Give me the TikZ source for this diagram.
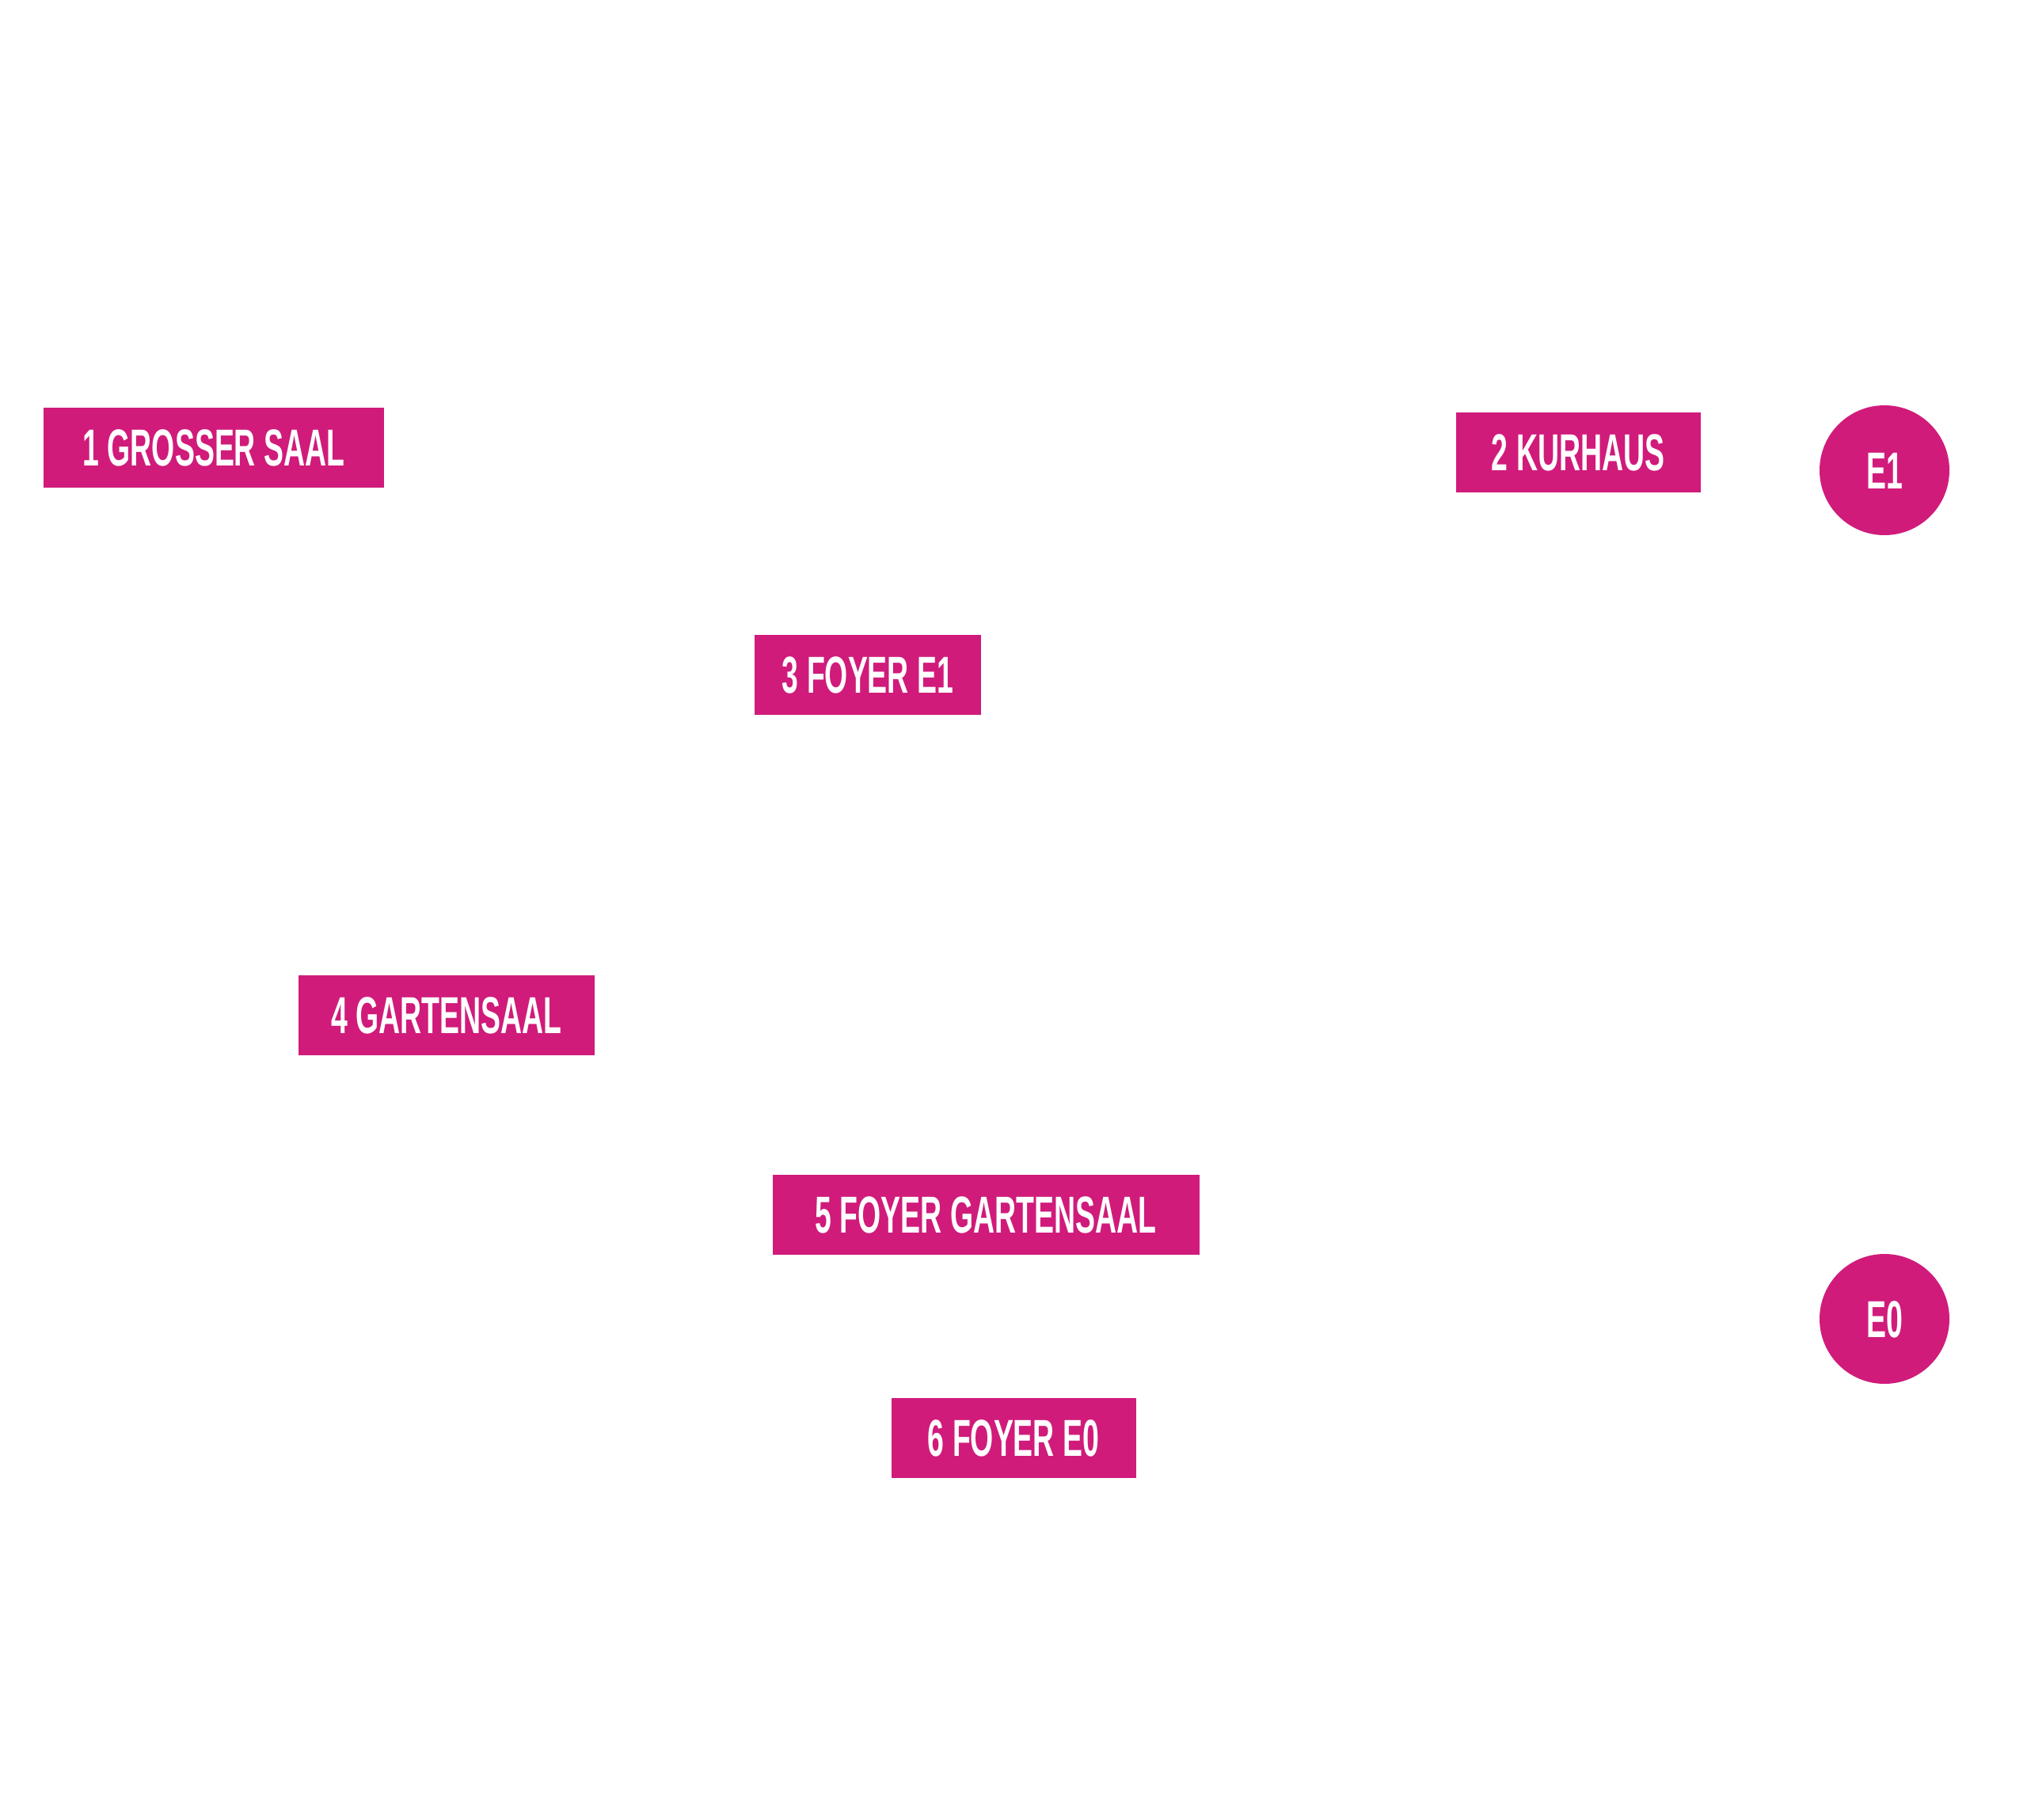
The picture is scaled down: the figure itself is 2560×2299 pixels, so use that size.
\documentclass[tikz,border=0pt]{standalone}
\usepackage{fontspec}
\setmainfont{Liberation Sans}[FakeStretch=0.57,UprightFont=*-Bold]
\definecolor{magentabox}{RGB}{208,27,123}
\begin{document}
\begin{tikzpicture}[x=0.3pt,y=-0.3pt,
  roombox/.style={fill=magentabox,draw=none,inner sep=0pt,minimum height=30.3pt,
    text=white,font=\fontsize{19.7pt}{20pt}\selectfont,text height=14.1pt,text depth=0pt,align=center},
  floorcirc/.style={circle,fill=magentabox,draw=none,inner sep=0pt,minimum size=49.2pt,
    text=white,font=\fontsize{19.7pt}{20pt}\selectfont,text height=14.1pt,text depth=0pt}]
\useasboundingbox[fill=white] (0,0) rectangle (2560,2299);
\node[roombox,minimum width=129pt] (r1) at (270,565) {1 GROSSER SAAL};
\node[roombox,minimum width=92.7pt] (r2) at (1993,571) {2 KURHAUS};
\node[floorcirc] (e1) at (2380,594) {E1};
\node[roombox,minimum width=85.8pt] (r3) at (1096,852) {3 FOYER E1};
\node[roombox,minimum width=112.2pt] (r4) at (564,1282) {4 GARTENSAAL};
\node[roombox,minimum width=161.7pt] (r5) at (1245,1534) {5 FOYER GARTENSAAL};
\node[floorcirc] (e0) at (2380,1666) {E0};
\node[roombox,minimum width=92.7pt] (r6) at (1280,1816) {6 FOYER E0};
\end{tikzpicture}
\end{document}
